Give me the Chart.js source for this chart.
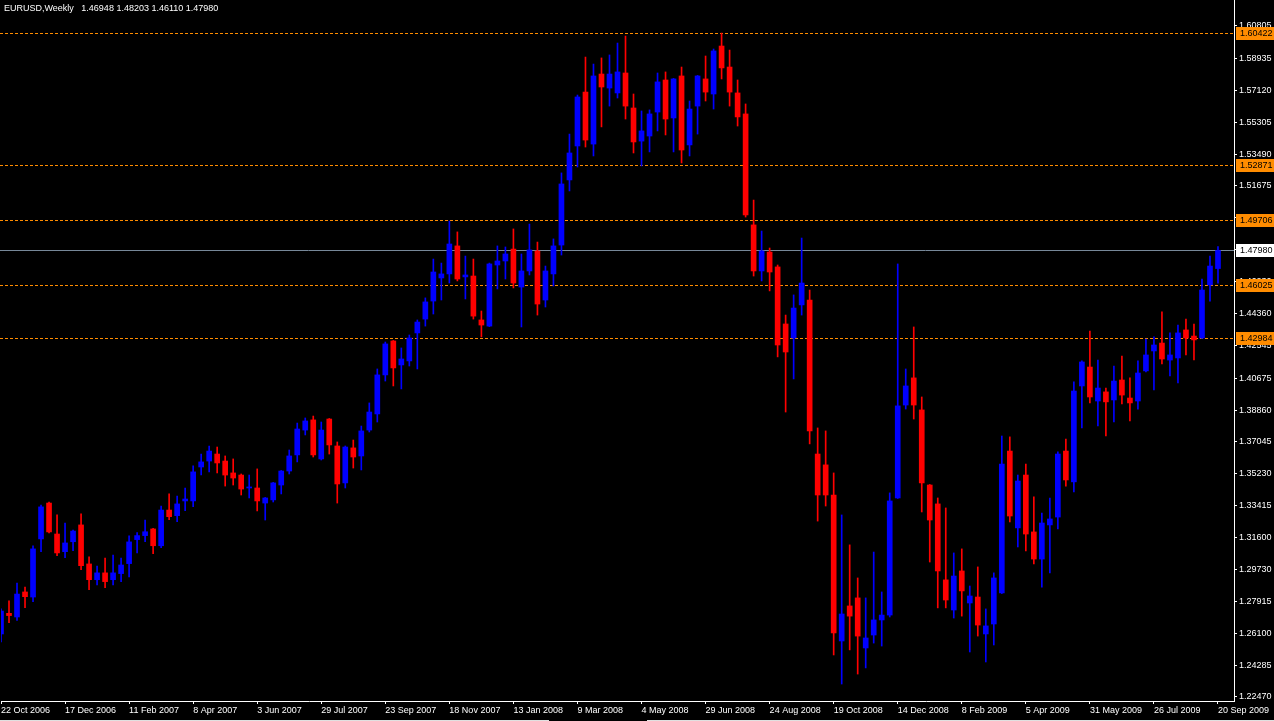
<!DOCTYPE html>
<html>
<head>
<meta charset="utf-8">
<title>EURUSD Weekly</title>
<script src="https://cdn.jsdelivr.net/npm/chart.js@4.4.0/dist/chart.umd.min.js"></script>
<style>
  html, body { margin: 0; padding: 0; background: #000; }
  #wrap { width: 1274px; height: 721px; }
</style>
</head>
<body>
<div id="wrap"><canvas id="chart" width="1274" height="721"></canvas></div>
<script>
const titleText = "EURUSD,Weekly   1.46948 1.48203 1.46110 1.47980";

// one label every 8 weekly bars
const dateLabels = ["22 Oct 2006", "17 Dec 2006", "11 Feb 2007", "8 Apr 2007", "3 Jun 2007",
  "29 Jul 2007", "23 Sep 2007", "18 Nov 2007", "13 Jan 2008", "9 Mar 2008", "4 May 2008",
  "29 Jun 2008", "24 Aug 2008", "19 Oct 2008", "14 Dec 2008", "8 Feb 2009", "5 Apr 2009",
  "31 May 2009", "26 Jul 2009", "20 Sep 2009"];

// weekly bars: [open, high, low, close]
const ohlc = [
  [1.2607, 1.2750, 1.2561, 1.2738], [1.2725, 1.2796, 1.2672, 1.2712], [1.2704, 1.2898, 1.2685, 1.2835],
  [1.2847, 1.2875, 1.2757, 1.2820], [1.2818, 1.3110, 1.2792, 1.3093], [1.3150, 1.3344, 1.3077, 1.3333],
  [1.3355, 1.3361, 1.3184, 1.3190], [1.3178, 1.3287, 1.3054, 1.3070], [1.3077, 1.3241, 1.3043, 1.3127],
  [1.3134, 1.3201, 1.3083, 1.3195], [1.3230, 1.3293, 1.2974, 1.2997], [1.3007, 1.3047, 1.2860, 1.2917],
  [1.2917, 1.2995, 1.2887, 1.2956], [1.2956, 1.3041, 1.2871, 1.2906], [1.2917, 1.3058, 1.2887, 1.2956],
  [1.2952, 1.3041, 1.2906, 1.3001], [1.3009, 1.3167, 1.2933, 1.3133], [1.3146, 1.3186, 1.3070, 1.3169],
  [1.3169, 1.3258, 1.3134, 1.3191], [1.3207, 1.3210, 1.3066, 1.3111], [1.3111, 1.3338, 1.3100, 1.3315],
  [1.3315, 1.3407, 1.3260, 1.3277], [1.3283, 1.3395, 1.3249, 1.3350], [1.3367, 1.3441, 1.3311, 1.3378],
  [1.3367, 1.3567, 1.3334, 1.3533], [1.3561, 1.3635, 1.3515, 1.3590], [1.3595, 1.3681, 1.3533, 1.3652],
  [1.3635, 1.3675, 1.3527, 1.3584], [1.3595, 1.3624, 1.3452, 1.3515], [1.3527, 1.3607, 1.3458, 1.3498],
  [1.3515, 1.3521, 1.3401, 1.3435], [1.3441, 1.3515, 1.3384, 1.3447], [1.3441, 1.3550, 1.3310, 1.3367],
  [1.3355, 1.3387, 1.3258, 1.3384], [1.3373, 1.3473, 1.3361, 1.3470], [1.3458, 1.3541, 1.3407, 1.3538],
  [1.3538, 1.3658, 1.3521, 1.3624], [1.3630, 1.3812, 1.3590, 1.3778], [1.3772, 1.3841, 1.3744, 1.3824],
  [1.3830, 1.3852, 1.3618, 1.3630], [1.3607, 1.3818, 1.3601, 1.3772], [1.3835, 1.3838, 1.3635, 1.3687],
  [1.3681, 1.3704, 1.3355, 1.3464], [1.3470, 1.3681, 1.3441, 1.3675], [1.3670, 1.3715, 1.3555, 1.3618],
  [1.3624, 1.3795, 1.3544, 1.3767], [1.3772, 1.3927, 1.3761, 1.3875], [1.3864, 1.4121, 1.3818, 1.4087],
  [1.4087, 1.4275, 1.4052, 1.4264], [1.4281, 1.4284, 1.4024, 1.4127], [1.4144, 1.4241, 1.4007, 1.4178],
  [1.4167, 1.4315, 1.4138, 1.4298], [1.4327, 1.4401, 1.4121, 1.4389], [1.4406, 1.4527, 1.4366, 1.4504],
  [1.4509, 1.4749, 1.4435, 1.4675], [1.4641, 1.4726, 1.4515, 1.4664], [1.4664, 1.4966, 1.4612, 1.4835],
  [1.4824, 1.4904, 1.4624, 1.4635], [1.4647, 1.4766, 1.4521, 1.4658], [1.4652, 1.4749, 1.4406, 1.4423],
  [1.4401, 1.4452, 1.4304, 1.4372], [1.4366, 1.4726, 1.4363, 1.4721], [1.4715, 1.4824, 1.4578, 1.4738],
  [1.4738, 1.4818, 1.4635, 1.4778], [1.4806, 1.4921, 1.4584, 1.4612], [1.4589, 1.4778, 1.4361, 1.4681],
  [1.4681, 1.4949, 1.4658, 1.4801], [1.4795, 1.4846, 1.4429, 1.4492], [1.4515, 1.4709, 1.4475, 1.4681],
  [1.4664, 1.4864, 1.4595, 1.4824], [1.4829, 1.5241, 1.4772, 1.5178], [1.5201, 1.5463, 1.5138, 1.5355],
  [1.5395, 1.5686, 1.5275, 1.5675], [1.5703, 1.5903, 1.5389, 1.5429], [1.5406, 1.5863, 1.5338, 1.5795],
  [1.5806, 1.5898, 1.5504, 1.5732], [1.5726, 1.5915, 1.5623, 1.5806], [1.5698, 1.5983, 1.5669, 1.5818],
  [1.5812, 1.6023, 1.5549, 1.5623], [1.5612, 1.5692, 1.5355, 1.5418], [1.5423, 1.5595, 1.5281, 1.5481],
  [1.5452, 1.5601, 1.5361, 1.5578], [1.5589, 1.5812, 1.5481, 1.5761], [1.5772, 1.5818, 1.5458, 1.5549],
  [1.5555, 1.5781, 1.5361, 1.5778], [1.5795, 1.5846, 1.5298, 1.5372], [1.5401, 1.5652, 1.5338, 1.5606],
  [1.5623, 1.5798, 1.5463, 1.5795], [1.5778, 1.5909, 1.5652, 1.5703], [1.5692, 1.5949, 1.5606, 1.5938],
  [1.5966, 1.6040, 1.5778, 1.5841], [1.5846, 1.5943, 1.5623, 1.5703], [1.5698, 1.5772, 1.5509, 1.5561],
  [1.5578, 1.5635, 1.4989, 1.5001], [1.4944, 1.5086, 1.4652, 1.4681], [1.4681, 1.4909, 1.4624, 1.4795],
  [1.4789, 1.4812, 1.4567, 1.4675], [1.4704, 1.4715, 1.4190, 1.4258], [1.4378, 1.4429, 1.3875, 1.4218],
  [1.4298, 1.4544, 1.4064, 1.4469], [1.4487, 1.4869, 1.4429, 1.4612], [1.4515, 1.4572, 1.3693, 1.3767],
  [1.3635, 1.3784, 1.3252, 1.3401], [1.3573, 1.3767, 1.3338, 1.3401], [1.3401, 1.3527, 1.2487, 1.2613],
  [1.2567, 1.3287, 1.2321, 1.2721], [1.2767, 1.3116, 1.2516, 1.2709], [1.2813, 1.2927, 1.2378, 1.2595],
  [1.2527, 1.2813, 1.2413, 1.2584], [1.2601, 1.3075, 1.2555, 1.2687], [1.2687, 1.2847, 1.2538, 1.2715],
  [1.2715, 1.3413, 1.2704, 1.3367], [1.3384, 1.4721, 1.3381, 1.3910], [1.3915, 1.4121, 1.3892, 1.4024],
  [1.4070, 1.4361, 1.3835, 1.3915], [1.3887, 1.3961, 1.3304, 1.3470], [1.3458, 1.3461, 1.3018, 1.3258],
  [1.3350, 1.3384, 1.2756, 1.2967], [1.2916, 1.3327, 1.2756, 1.2801], [1.2744, 1.3070, 1.2698, 1.2938],
  [1.2967, 1.3093, 1.2709, 1.2853], [1.2784, 1.2881, 1.2504, 1.2824], [1.2818, 1.2990, 1.2595, 1.2658],
  [1.2607, 1.2750, 1.2447, 1.2653], [1.2664, 1.2956, 1.2544, 1.2927], [1.2841, 1.3738, 1.2838, 1.3578],
  [1.3652, 1.3733, 1.3247, 1.3281], [1.3213, 1.3515, 1.3104, 1.3481], [1.3515, 1.3578, 1.3081, 1.3178],
  [1.3190, 1.3390, 1.3007, 1.3035], [1.3035, 1.3298, 1.2875, 1.3241], [1.3230, 1.3384, 1.2956, 1.3264],
  [1.3275, 1.3647, 1.3207, 1.3635], [1.3652, 1.3721, 1.3452, 1.3487], [1.3476, 1.4047, 1.3418, 1.3995],
  [1.4024, 1.4167, 1.3784, 1.4161], [1.4132, 1.4338, 1.3927, 1.3961], [1.3938, 1.4172, 1.3795, 1.4012],
  [1.3990, 1.4012, 1.3738, 1.3933], [1.3944, 1.4138, 1.3818, 1.4052], [1.4058, 1.4195, 1.3921, 1.3972],
  [1.3955, 1.4070, 1.3824, 1.3927], [1.3938, 1.4167, 1.3892, 1.4098], [1.4110, 1.4292, 1.4104, 1.4201],
  [1.4224, 1.4304, 1.4001, 1.4258], [1.4269, 1.4447, 1.4150, 1.4178], [1.4172, 1.4327, 1.4081, 1.4201],
  [1.4184, 1.4372, 1.4041, 1.4327], [1.4344, 1.4406, 1.4201, 1.4298], [1.4309, 1.4378, 1.4172, 1.4287],
  [1.4298, 1.4635, 1.4295, 1.4572], [1.4601, 1.4766, 1.4509, 1.4709], [1.46948, 1.48203, 1.46110, 1.47980]
];

const priceTicks = [1.60805, 1.58935, 1.57120, 1.55305, 1.53490, 1.51675, 1.49860, 1.48045,
  1.46230, 1.44360, 1.42545, 1.40675, 1.38860, 1.37045, 1.35230, 1.33415, 1.31600,
  1.29730, 1.27915, 1.26100, 1.24285, 1.22470];

const levels = [1.60422, 1.52871, 1.49706, 1.46025, 1.42984];
const bidPrice = 1.47980;
const emptyBars = 2; // shift at the right edge

const bull = "#0000ff";
const bear = "#ff0000";
const levelColor = "#ff8c00";
const bidColor = "#778899";

const weeks = ohlc.map((d, i) => i);
for (let k = 0; k < emptyBars; k++) weeks.push(ohlc.length + k);
const barColors = ohlc.map(d => (d[3] >= d[0] ? bull : bear));

Chart.defaults.font.family = "'Liberation Sans', Arial, sans-serif";
Chart.defaults.font.size = 9;
Chart.defaults.color = "#ffffff";

const fmt = v => v.toFixed(5);

const overlays = {
  id: "overlays",
  beforeDatasetsDraw(chart) {
    const { ctx, chartArea: a, scales: { y } } = chart;
    ctx.save();
    ctx.beginPath();
    ctx.rect(0, a.top, a.right, a.bottom - a.top);
    ctx.clip();
    ctx.lineWidth = 1;
    ctx.setLineDash([3, 2]);
    ctx.strokeStyle = levelColor;
    levels.forEach(v => {
      const py = Math.round(y.getPixelForValue(v)) + 0.5;
      ctx.beginPath();
      ctx.moveTo(0, py);
      ctx.lineTo(a.right, py);
      ctx.stroke();
    });
    ctx.setLineDash([]);
    ctx.strokeStyle = bidColor;
    const by = Math.round(y.getPixelForValue(bidPrice)) + 0.5;
    ctx.beginPath();
    ctx.moveTo(0, by);
    ctx.lineTo(a.right, by);
    ctx.stroke();
    ctx.restore();
  },
  afterDraw(chart) {
    const { ctx, chartArea: a, scales: { y }, width, height } = chart;
    ctx.save();
    ctx.font = "9px 'Liberation Sans', Arial, sans-serif";
    ctx.textBaseline = "middle";
    const box = (v, bg) => {
      const py = Math.round(y.getPixelForValue(v));
      ctx.fillStyle = bg;
      ctx.fillRect(a.right + 2, py - 6, 40, 13);
      ctx.fillStyle = "#000";
      ctx.fillText(fmt(v), a.right + 6, py + 1);
    };
    levels.forEach(v => box(v, levelColor));
    box(bidPrice, "#ffffff");

    ctx.fillStyle = "#fff";
    ctx.textBaseline = "alphabetic";
    ctx.fillText(titleText, 4, 11);

    // window frame under the time axis
    ctx.fillStyle = "#e0e0e0";
    ctx.fillRect(0, height - 1, 549, 1);
    ctx.fillRect(647, height - 1, width - 647, 1);
    ctx.restore();
  }
};

new Chart(document.getElementById("chart"), {
  type: "bar",
  data: {
    labels: weeks,
    datasets: [
      {
        label: "body",
        data: ohlc.map(d => [d[0], d[3]]),
        backgroundColor: barColors,
        barThickness: 5,
        minBarLength: 1,
        grouped: false,
        borderWidth: 0
      },
      {
        label: "wick",
        data: ohlc.map(d => [d[2], d[1]]),
        backgroundColor: barColors,
        barThickness: 1,
        grouped: false,
        borderWidth: 0
      }
    ]
  },
  options: {
    responsive: false,
    animation: false,
    devicePixelRatio: 1,
    layout: { autoPadding: false, padding: { left: 1, top: 0, right: 0, bottom: 0 } },
    plugins: { legend: { display: false }, tooltip: { enabled: false }, title: { display: false } },
    scales: {
      x: {
        type: "category",
        offset: false,
        grid: { offset: false, drawOnChartArea: false, drawTicks: true, tickLength: 3, color: "#ffffff" },
        border: { color: "#ffffff" },
        ticks: {
          autoSkip: false,
          maxRotation: 0,
          minRotation: 0,
          align: "start",
          padding: 1,
          color: "#ffffff",
          callback: (v, i) => (i % 8 === 0 && dateLabels[i / 8] ? dateLabels[i / 8] : null)
        },
        afterFit: s => { s.height = 20; s.paddingLeft = 0; s.paddingRight = 0; }
      },
      y: {
        position: "right",
        min: 1.2224,
        max: 1.6229,
        afterBuildTicks: s => { s.ticks = priceTicks.map(v => ({ value: v })); },
        grid: { drawOnChartArea: false, drawTicks: true, tickLength: 3, color: "#ffffff" },
        border: { color: "#ffffff" },
        ticks: { autoSkip: false, padding: 2, color: "#ffffff", callback: v => fmt(v) },
        afterFit: s => { s.width = 40; s.paddingTop = 0; s.paddingBottom = 0; }
      }
    }
  },
  plugins: [overlays]
});
</script>
</body>
</html>
